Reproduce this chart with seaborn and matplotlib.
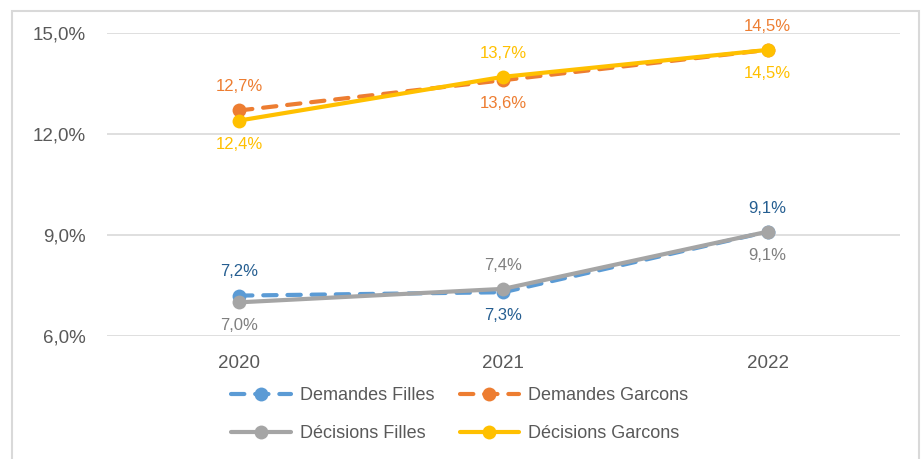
import pandas as pd
import matplotlib.pyplot as plt
import seaborn as sns
from matplotlib.patches import Rectangle

# données
annees = ["2020", "2021", "2022"]
demandes_filles = [7.2, 7.3, 9.1]
demandes_garcons = [12.7, 13.6, 14.5]
decisions_filles = [7.0, 7.4, 9.1]
decisions_garcons = [12.4, 13.7, 14.5]

series = ["Demandes Filles", "Demandes Garcons", "Décisions Filles", "Décisions Garcons"]
valeurs = [demandes_filles, demandes_garcons, decisions_filles, decisions_garcons]
couleurs = ["#5B9BD5", "#ED7D31", "#A5A5A5", "#FFC000"]
couleurs_etiq = ["#255E91", "#ED7D31", "#7F7F7F", "#FFC000"]
pointilles = [True, True, False, False]
# position des étiquettes : 1 au-dessus, -1 en dessous
positions = [[1, -1, 1], [1, -1, 1], [-1, 1, -1], [-1, 1, -1]]

sns.set_style("white")
plt.rcParams['font.family'] = ['Liberation Sans', 'DejaVu Sans']

fig = plt.figure(figsize=(9.22, 4.59), dpi=100)
ax = fig.add_axes([0.116, 0.268, 0.860, 0.660])

for nom, val, coul, tir in zip(series, valeurs, couleurs, pointilles):
    df = pd.DataFrame({"Année": annees, "Taux": val})
    sns.lineplot(data=df, x="Année", y="Taux", ax=ax, color=coul, label=nom,
                 linewidth=3, marker="o", markersize=10, markeredgewidth=0,
                 linestyle="--" if tir else "-", dash_capstyle="round",
                 solid_capstyle="round")

for line in ax.get_lines():
    if line.get_linestyle() == "--":
        line.set_dashes((3.2, 2.6))
        line.set_dash_capstyle("round")

for val, coul, pos in zip(valeurs, couleurs_etiq, positions):
    for i, v in enumerate(val):
        ax.annotate(f"{v:.1f}%".replace(".", ","), (i, v), xytext=(0, 17 * pos[i]),
                    textcoords="offset points", ha="center", va="center",
                    fontsize=12, color=coul, annotation_clip=False)

ax.set_xlim(-0.5, 2.5)
ax.set_ylim(6, 15)
ax.set_yticks([6, 9, 12, 15])
ax.set_yticklabels(["6,0%", "9,0%", "12,0%", "15,0%"])
ax.set_xlabel("")
ax.set_ylabel("")
ax.grid(axis="y", color="#D9D9D9", linewidth=1.2)
ax.grid(axis="x", visible=False)
for s in ax.spines.values():
    s.set_visible(False)
ax.tick_params(axis="both", length=0, labelsize=13.5, labelcolor="#595959")
ax.tick_params(axis="y", pad=15)
ax.tick_params(axis="x", pad=14)

# ordre ligne par ligne comme dans l'original
handles, labels = ax.get_legend_handles_labels()
ordre = [0, 2, 1, 3]
ax.legend([handles[k] for k in ordre], [labels[k] for k in ordre],
          loc="upper center", bbox_to_anchor=(0.445, -0.115), ncol=2, frameon=False,
          fontsize=13, labelcolor="#595959", handlelength=3.3, handletextpad=0.5,
          columnspacing=1.4, labelspacing=1.15)

fig.patches.append(Rectangle((12 / 922, -0.01), 907 / 922, 1 - 11 / 459 + 0.01,
                             transform=fig.transFigure, fill=False,
                             edgecolor="#D9D9D9", linewidth=1.5))

fig.savefig("out.png", dpi=100)
